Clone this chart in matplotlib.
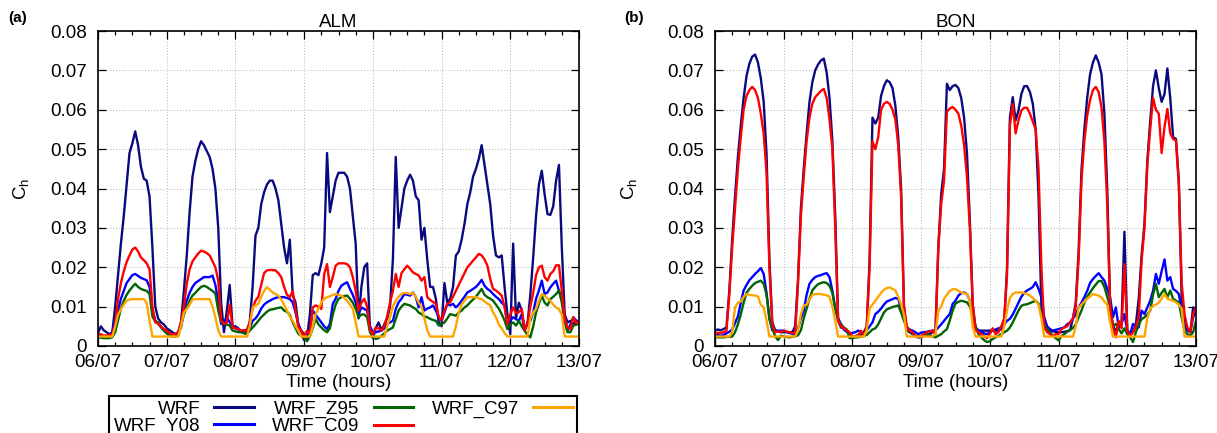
import numpy as np
import matplotlib
matplotlib.use("Agg")
import matplotlib.pyplot as plt
from matplotlib.ticker import MultipleLocator
from matplotlib.lines import Line2D

plt.rcParams['font.family'] = ['Liberation Sans', 'DejaVu Sans']
plt.rcParams['mathtext.fontset'] = 'custom'
plt.rcParams['mathtext.rm'] = 'Liberation Sans'

# hourly time axis, 06/07 00h .. 13/07 00h
hours = np.arange(169)
day_labels = ["06/07", "07/07", "08/07", "09/07", "10/07", "11/07", "12/07", "13/07"]
y_ticks = [0, 0.01, 0.02, 0.03, 0.04, 0.05, 0.06, 0.07, 0.08]
y_tick_labels = ["0", "0.01", "0.02", "0.03", "0.04", "0.05", "0.06", "0.07", "0.08"]

series_names = ["WRF", "WRF_Y08", "WRF_Z95", "WRF_C09", "WRF_C97"]
series_colors = ["#0a0a80", "#0000ff", "#006400", "#ff0000", "#ffa500"]

# ---- ALM, Ch in units of 1e-3 ----
alm_wrf = [
    3.3, 5, 4, 3.5, 3, 3.5, 10, 18, 26, 33, 41, 49, 51.5, 54.5, 51, 45.5, 42.5, 42, 38, 25, 10, 7, 6, 5.5,
    4.5, 4, 3.5, 3, 3.5, 6, 14, 23, 34, 43, 47, 50, 52, 51, 49.5, 48, 45, 40, 30, 11, 3.5, 9, 15.5, 5,
    5, 4.5, 3.5, 4, 4, 6, 15, 28, 30, 36, 39, 41, 42, 42, 40, 37, 31, 25, 21, 27, 13, 11, 5, 3,
    1.5, 2, 8, 18, 18.5, 18, 21, 25, 49, 34, 38, 42, 44, 44, 44, 43, 40, 33, 26, 7, 15, 20, 21, 4,
    2, 4.5, 6, 4, 5.5, 7, 10, 22, 48, 30, 35, 40, 42, 43.5, 42, 38, 37, 27, 30, 22, 15, 15, 12, 6,
    5, 16, 11, 12, 15, 23, 24, 27, 31, 36, 39, 43, 45, 47.5, 51, 46, 41, 36, 28, 23, 22.5, 23, 15, 8,
    3, 26, 7, 11, 9, 4, 5.5, 13, 22.5, 33, 41, 44.5, 38.5, 33.5, 33.3, 35.5, 42, 46, 25, 8, 6, 6.4, 5.6, 6.4,
    6]
alm_y08 = [
    2.6, 2.5, 2.4, 2.2, 2.5, 3.5, 6.5, 9, 12, 14, 16, 17, 18, 18.3, 17.8, 17.3, 17, 16.7, 15, 9, 6.5, 5.6, 4.8, 4,
    3.7, 3.3, 3, 3, 3.5, 4.7, 9, 11.5, 13.5, 15, 16, 16.5, 17, 17.5, 17.5, 17.5, 17.9, 15.5, 11, 5.6, 6, 7.3, 6, 4.7,
    4.5, 4.2, 3.9, 3.7, 3.5, 4.5, 6.4, 7, 8, 9.5, 10.5, 11.1, 11.5, 11.9, 12.2, 12.4, 12.4, 12.4, 12.2, 11.9, 11.1, 8.5, 5.5, 3.9,
    3, 3.3, 3.9, 9, 8, 7, 6, 5, 4.3, 5.6, 10.7, 12, 14, 15.3, 15.8, 16.2, 14.5, 13, 11, 8.1, 9.8, 9.4, 9, 5,
    3.5, 3.5, 3.7, 3.9, 4.5, 5.6, 6, 6.4, 9.4, 11.1, 12, 13.2, 13, 12.8, 13.6, 12.4, 9.8, 12.4, 9, 9.5, 9.8, 10.3, 9, 7.3,
    6.4, 8.5, 10.7, 10.3, 10.7, 9.8, 10.5, 11.5, 12.5, 13.6, 14, 14.5, 15, 15.8, 16.8, 15.3, 14.5, 14, 13.2, 12.5, 11.9, 11, 10.3, 5.6,
    6.5, 7.3, 6.8, 6.4, 8.1, 3.9, 6, 6.4, 8.5, 12, 14.1, 16.6, 13.2, 13.6, 14.9, 15.8, 16.6, 14, 12.4, 7.3, 3.9, 5.5, 7.3, 6.5,
    6]
alm_z95 = [
    2.2, 2.1, 2, 2, 2, 2.2, 3.5, 6.5, 9.5, 11.5, 13, 14.1, 15, 15.8, 15, 14.5, 14.2, 14, 13.2, 7.5, 6.2, 6, 4.8, 3.9,
    3.2, 2.6, 2.4, 2.4, 2.6, 5, 8, 9.8, 11.5, 12.8, 13.5, 14.3, 15, 15.3, 15, 14.5, 14, 13.3, 9, 6, 5.6, 5.4, 5.2, 3.9,
    3.7, 3.5, 3.5, 3.2, 3, 3.9, 4.7, 5.5, 6.4, 7.3, 8, 8.7, 9.2, 9.3, 9.5, 9.7, 9.8, 9, 8.7, 7.9, 6, 4.5, 3.1, 2.6,
    2, 1.2, 2.5, 4.5, 6.9, 5.5, 4.7, 4, 3.5, 4.5, 8, 10.5, 12, 12.4, 12.7, 12.8, 12, 11, 9.5, 7.3, 8, 8, 7.3, 3.5,
    2.5, 1.8, 2, 2.6, 3.2, 3.9, 4.3, 4.7, 6.9, 9, 10, 10.7, 10.5, 10.3, 9.8, 9.4, 8.5, 8.1, 7.5, 7.3, 6.9, 6.6, 6.4, 5.2,
    5.5, 6, 7, 8.1, 7.9, 7.7, 8.5, 9, 9.8, 10.3, 11.1, 11.8, 12.5, 13.5, 14.5, 13, 12.4, 12, 11.5, 10.5, 9.5, 8.1, 6.5, 4.3,
    5.5, 6, 5.2, 6.4, 5, 3.9, 2.8, 2.2, 5, 8.5, 10.7, 12.8, 11, 10.3, 11.9, 12.5, 13.2, 14.1, 11, 6, 3.5, 3.5, 5.2, 5.4,
    5.6]
alm_c09 = [
    3, 3, 2.6, 2.7, 2.8, 3, 5.5, 12, 16, 19, 21.3, 23, 24.5, 25, 24, 22.5, 21.8, 21, 19.5, 10, 6, 5.7, 5, 4.3,
    3.9, 3.2, 3, 3, 3.5, 6, 10, 15.8, 19.5, 21.5, 22.5, 23.5, 24.2, 24, 23.6, 23, 21.5, 20, 16.6, 6.4, 5.6, 6, 10.5, 4.7,
    4.5, 4.3, 4, 3.9, 3.9, 6, 9.5, 11.5, 12.5, 15.5, 18.5, 19.2, 19.3, 19.3, 19.2, 18.5, 17.5, 15, 13, 12.4, 14, 9, 4.7, 3.9,
    2.2, 3.9, 3, 9.8, 10.3, 10, 9.4, 18.3, 20.8, 15, 17.5, 20.4, 21, 21, 21, 20.8, 20, 17.5, 14, 9, 11, 12, 10, 4,
    3, 4.7, 4.5, 3.9, 5.2, 7.5, 11, 14, 18.3, 15, 18.5, 19.5, 20.4, 19.6, 18.7, 18.3, 17.9, 16.6, 17.5, 12.4, 11.7, 11.2, 10.7, 7.5,
    6.5, 9, 10.7, 11.1, 12.5, 14, 15.5, 17, 18.5, 20, 20.8, 21.7, 22.5, 23.4, 23, 22, 20.4, 17, 14.5, 14.1, 13.5, 12.8, 9.8, 5.6,
    8, 9.8, 8.3, 8.6, 9.4, 4, 5.6, 10, 13.5, 18, 20, 20.4, 17.5, 16.6, 18.3, 19, 20.5, 20.5, 14, 7, 4.7, 4.3, 7.3, 5.8,
    6.4]
alm_c97 = [
    2.4, 2.4, 2.4, 2.4, 2.4, 2.4, 5, 8, 9.3, 10.5, 11.5, 11.8, 11.9, 11.9, 11.9, 11.9, 11.9, 11, 6.5, 2.4, 2.4, 2.4, 2.4, 2.4,
    2.4, 2.4, 2.4, 2.4, 2.4, 5, 8.5, 9.4, 10.5, 11.8, 11.9, 11.9, 11.9, 11.9, 11.9, 11.9, 10, 7.3, 4, 2.4, 2.4, 2.4, 2.4, 2.4,
    2.4, 2.4, 2.4, 2.4, 2.4, 5, 9.8, 10.3, 10.7, 12.5, 14, 14.9, 14.3, 13.6, 13.2, 12.8, 11.8, 10.5, 9, 7.5, 6.4, 5, 3.9, 2.4,
    2.4, 2.4, 2.4, 5, 8, 9.5, 11, 12, 12.4, 12.6, 13, 13.2, 13, 12.8, 12.2, 11.5, 10.5, 9.5, 6, 2.4, 2.4, 2.4, 2.4, 2.4,
    2.4, 2.4, 2.4, 2.4, 2.4, 5, 7.3, 10, 11.5, 12.5, 13.2, 13.5, 13.4, 13.2, 13.5, 12.5, 11, 10, 7, 4, 2.4, 2.4, 2.4, 2.4,
    2.4, 2.4, 2.4, 2.4, 2.4, 5, 8.5, 10.5, 11.5, 12.4, 12.4, 12.4, 12.4, 12.1, 11.9, 11.3, 10.8, 10.3, 8.5, 7.3, 5.5, 4.5, 3.3, 2.4,
    2.4, 2.4, 2.4, 2.4, 2.4, 2.4, 2.4, 7, 8.5, 9.4, 11.5, 13.2, 12.8, 12, 11.5, 10.5, 9.8, 9.3, 8, 2.4, 2.4, 2.4, 2.4, 2.4,
    2.4]

# ---- BON, Ch in units of 1e-3 ----
bon_wrf = [
    3.9, 4.2, 4, 4.3, 4.7, 14, 27, 38, 48, 56, 63, 68.5, 71.7, 73.5, 74, 72, 68, 62, 48.8, 22, 6, 4, 3.7, 3.5,
    3.5, 3.5, 3.5, 3.5, 5, 17, 35, 45, 54, 62, 67, 70, 71.5, 72.5, 73, 69.5, 63, 52, 33, 6.4, 4.7, 4.5, 4, 3,
    2.2, 2.5, 2.8, 3, 3.5, 5, 22, 58, 56.5, 58, 63.5, 66, 67.5, 67, 65.5, 61, 53, 40, 10, 4, 3.5, 3, 2.5, 2.2,
    2.2, 2.5, 2.8, 3, 3.5, 3.9, 25, 38.5, 45, 66.6, 65, 66, 66.3, 65.5, 63, 58, 49, 32, 10.7, 4.5, 3.9, 3.9, 3.9, 3.9,
    3.9, 3.9, 3.9, 3.9, 4.2, 5.5, 20, 58, 63.2, 57.3, 59.8, 64, 66, 66, 64.5, 61.5, 55, 38, 10, 4.5, 4, 3.9, 3.7, 3.6,
    3.5, 3.5, 3.6, 3.8, 4, 7, 11, 24, 44.6, 55, 63, 69, 72, 73.8, 72, 69, 59, 40, 10, 5, 4, 4.7, 6, 29,
    3.9, 3.2, 3.5, 5.5, 12, 23, 31, 47, 57, 66, 70, 65.5, 62, 64, 70.5, 63, 53, 52.6, 42, 12, 5.5, 4, 3.5, 9.8,
    9]
bon_y08 = [
    3, 2.8, 2.6, 2.8, 3.2, 3.6, 4.2, 5.8, 7.5, 11, 14.1, 15.5, 16.7, 17.5, 18.3, 19, 19.8, 18.3, 13.5, 7, 4, 3.9, 3.9, 3.9,
    3.9, 3.6, 3.3, 3.1, 3, 4.5, 7, 9, 13, 15.8, 16.8, 17.5, 17.8, 18, 18.3, 18.5, 17.5, 14, 9.5, 7, 5.6, 4.2, 3.6, 3,
    3.3, 3.5, 3.9, 3.5, 3, 4, 5, 6, 8.1, 8.7, 9.5, 10.5, 11.3, 11.6, 11.9, 12.2, 12, 9.5, 7, 4.7, 4.2, 3.9, 3.5, 3,
    3.4, 3.5, 3.6, 3.8, 3.9, 3.9, 4.7, 5.5, 6.4, 7.3, 8.1, 10.7, 11.5, 12.8, 13.4, 13.6, 13.2, 11.5, 9, 4.7, 4, 3.5, 3.2, 3,
    3.5, 3.9, 4.2, 4.5, 4.7, 5.5, 6.4, 6.9, 8, 9.5, 11, 12.5, 13.5, 14.1, 14.5, 15, 16.2, 14.5, 12.4, 7.3, 5, 4.3, 3.9, 4.1,
    4.3, 4.5, 4.7, 5.5, 6, 6.9, 8, 9.8, 11, 12.4, 14, 16, 17, 17.8, 18.5, 17.5, 16.6, 14.5, 12.4, 7.3, 9.8, 4.7, 5.6, 8.1,
    3.9, 3, 5.6, 5, 4.7, 9, 8.1, 9.8, 11.5, 14, 18.3, 15.8, 19, 22, 16.6, 17.5, 14.5, 14, 13.2, 9, 4.7, 4, 3.5, 7.3,
    9]
bon_z95 = [
    2.2, 2.2, 2.2, 2.2, 2.3, 2.3, 2.4, 3.5, 5.5, 8, 11, 13.5, 14.5, 15.3, 16, 16.3, 16.6, 15.8, 13, 7, 4.5, 2.5, 1.5, 2.6,
    2.4, 2.3, 2.2, 2.3, 2.5, 2.7, 4, 7, 9.5, 12, 14.1, 15, 15.7, 16, 16.2, 16, 15.3, 13.5, 9.5, 6.5, 5.5, 4.7, 4.2, 2,
    2, 2.2, 2.2, 2.4, 2.6, 2.8, 3.5, 4.2, 4.5, 5.5, 7, 8.5, 9.3, 9.6, 9.9, 10.1, 10.3, 8.5, 6.4, 4.5, 3.9, 3.2, 2.6, 2.5,
    2.4, 2.6, 3, 2.7, 2.4, 2.2, 2.6, 3, 3.7, 4.3, 6.5, 9, 10.8, 11.2, 11.5, 11.3, 11.1, 10, 8, 5, 3, 2.2, 1.5, 1,
    1.2, 1.8, 2.2, 2.6, 3, 3.5, 3.9, 4.7, 6, 7.5, 9, 10.2, 10.5, 10.6, 10.9, 11.2, 11.5, 10.8, 8, 5.5, 4.3, 3.5, 2.6, 2,
    1.4, 2.5, 3, 3.6, 4, 4.6, 5.5, 7.3, 9, 11, 12.5, 13.6, 14.7, 15.6, 16.5, 16.5, 15, 12.5, 9.8, 5, 5.6, 4.3, 3.2, 4.5,
    3, 2.2, 1, 3.5, 5.5, 6.8, 7.3, 8, 9, 13, 15.8, 12.4, 13.5, 14.5, 12.4, 14.1, 12, 11.5, 11.1, 7.3, 3.9, 3, 2.6, 3.5,
    6.4]
bon_c09 = [
    3, 3.4, 3.3, 3.5, 3.8, 13, 25, 35, 45, 53, 60, 63.5, 65, 65.8, 65, 63, 59, 54, 44, 20, 5.5, 3.5, 3.7, 3.5,
    3.9, 3.7, 3.5, 3.3, 3.2, 16, 33, 43, 52, 58, 61.5, 63.2, 64, 64.8, 65.3, 63, 57.5, 50, 30, 6.4, 5, 4.5, 4, 3.5,
    2.5, 2.3, 2.6, 3.9, 2.5, 5, 20, 52, 50, 53, 60, 61.5, 62, 61.5, 60, 57.5, 51, 38, 10, 5, 3.9, 3.5, 2.5, 2.2,
    2.6, 3, 3.5, 3.7, 3.9, 3, 25, 36, 42, 59.5, 60.3, 60.7, 60, 59, 56, 51, 43, 30, 10.7, 4, 3.5, 3, 2.5, 2,
    3, 4.5, 3, 3.5, 5, 7, 18, 56, 61.5, 54, 57.3, 59.8, 60.5, 60.5, 59, 57, 55, 45, 20, 4.7, 3.5, 3, 2.5, 3,
    3, 4.3, 4.7, 5, 6, 7, 10, 22, 42, 52, 58.5, 62.5, 65, 65.8, 64.5, 60.5, 52, 36, 10, 4.7, 2.2, 6.4, 4.5, 20.8,
    3.9, 2.5, 3.5, 5, 7.3, 21.7, 30, 46, 55, 63, 60, 59, 49, 55.6, 60.2, 54, 52.6, 52.2, 41, 16, 8, 4.7, 3.5, 8.1,
    9.8]
bon_c97 = [
    2.4, 2.4, 2.4, 2.4, 2.4, 2.4, 3.5, 9.8, 11, 11.3, 12.5, 13.2, 13, 12.9, 12.8, 12.6, 10.5, 9.8, 6.5, 2.4, 2.4, 2.4, 2.4, 2.4,
    2.4, 2.4, 2.4, 2.4, 2.4, 4, 8, 10.3, 10.5, 11.8, 13, 13.2, 13.2, 13.2, 13, 12.9, 12.5, 10, 6.4, 2.4, 2.4, 2.4, 2.4, 2.4,
    2.4, 2.4, 2.4, 2.4, 2.4, 4, 9.5, 10.5, 11.5, 12.5, 13.5, 14.3, 14.7, 14.9, 14.5, 14.1, 12.5, 10.5, 8, 2.4, 2.4, 2.4, 2.4, 2.4,
    2.4, 2.4, 2.4, 2.4, 2.4, 3, 9, 10, 12, 13, 14, 14.4, 14.5, 14, 13.6, 13.4, 13.2, 11.5, 5, 2.4, 2.4, 2.4, 2.4, 2.4,
    2.4, 2.4, 2.4, 2.4, 2.4, 5, 9, 12.2, 13.2, 13.6, 13.6, 13.6, 13.4, 13.2, 12.8, 12.2, 11.5, 10.5, 7, 2.4, 2.4, 2.4, 2.4, 2.4,
    2.4, 2.4, 2.4, 2.4, 2.4, 2.4, 5, 9.8, 10.5, 11.3, 12, 12.6, 13.2, 13, 12.8, 12.3, 11.3, 10.5, 6, 2.4, 2.4, 2.4, 2.4, 2.4,
    2.4, 2.4, 2.4, 2.4, 2.4, 2.4, 2.4, 7, 9.5, 10.2, 10.5, 11, 12, 13.2, 12, 11.7, 11.5, 11.1, 10.5, 9.5, 2.4, 2.4, 2.4, 2.4,
    2.4]

UNIT = 1e-3
panels = [
    ("(a)", "ALM", [alm_wrf, alm_y08, alm_z95, alm_c09, alm_c97]),
    ("(b)", "BON", [bon_wrf, bon_y08, bon_z95, bon_c09, bon_c97]),
]
for _, _, group in panels:
    for s in group:
        assert len(s) == len(hours), len(s)

W, H = 1217, 433
fig = plt.figure(figsize=(W / 100, H / 100), dpi=100)

axes_px = [(98, 579), (715, 1196)]
top_px, bottom_px = 31, 346
ylabel_x = [-0.137, -0.156]
tag_x = [8, 624]

fs = 13.5
for k, (tag, title, group) in enumerate(panels):
    x0, x1 = axes_px[k]
    ax = fig.add_axes([x0 / W, 1 - bottom_px / H, (x1 - x0) / W, (bottom_px - top_px) / H])
    for vals, color in zip(group, series_colors):
        ax.plot(hours, np.asarray(vals) * UNIT, color=color, lw=1.7, solid_joinstyle='round')
    ax.set_xlim(hours[0], hours[-1])
    ax.set_ylim(0, 0.08)
    ax.set_xticks(hours[::24])
    ax.set_xticklabels(day_labels)
    ax.xaxis.set_minor_locator(MultipleLocator(6))
    ax.set_yticks(y_ticks)
    ax.set_yticklabels(y_tick_labels)
    ax.tick_params(which='both', direction='in', top=True, right=True, labelsize=fs, width=0.9)
    ax.tick_params(which='major', length=6)
    ax.tick_params(which='minor', length=3)
    ax.tick_params(axis='y', pad=8)
    ax.tick_params(axis='x', pad=6)
    ax.grid(True, which='major', linestyle=(0, (1, 2)), color='#b0b0b0', linewidth=0.7)
    for sp in ax.spines.values():
        sp.set_linewidth(1.2)
    ax.set_title(title, fontsize=fs, pad=3)
    ax.set_xlabel("Time (hours)", fontsize=fs, labelpad=2)
    ax.set_ylabel(r"C$_\mathregular{h}$", fontsize=fs)
    ax.yaxis.set_label_coords(ylabel_x[k], 0.5)
    fig.text(tag_x[k] / W, 1 - 18 / H, tag, fontsize=11, fontweight='bold', va='center', ha='left')

handles = [Line2D([], [], color=c, lw=2.2) for c in series_colors]
leg = fig.legend(handles, series_names, loc='upper left',
                 bbox_to_anchor=(109 / W, 1 - 396 / H), bbox_transform=fig.transFigure,
                 ncol=3, markerfirst=False, frameon=True, fancybox=False, edgecolor='black',
                 framealpha=1, borderaxespad=0, borderpad=0.25, handlelength=2.1,
                 handletextpad=0.75, columnspacing=1.0, labelspacing=0.0, fontsize=fs)
leg.get_frame().set_linewidth(1.5)

fig.savefig("out.png", dpi=100)
